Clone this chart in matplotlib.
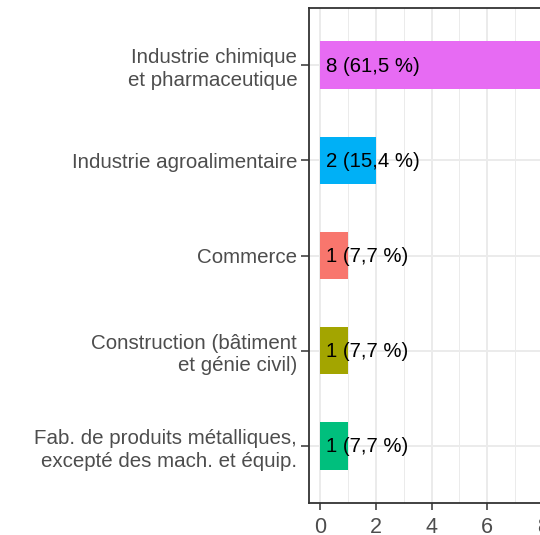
import matplotlib
matplotlib.use("Agg")
import matplotlib.pyplot as plt
from matplotlib.ticker import MultipleLocator

plt.rcParams.update({
    "font.family": ["Liberation Sans", "DejaVu Sans"],
})

# ---------------------------------------------------------------------------
# Data
# ---------------------------------------------------------------------------
categories = [
    "Industrie chimique\net pharmaceutique",
    "Industrie agroalimentaire",
    "Commerce",
    "Construction (bâtiment\net génie civil)",
    "Fab. de produits métalliques,\nexcepté des mach. et équip.",
]
counts = [8, 2, 1, 1, 1]
labels = ["8 (61,5 %)", "2 (15,4 %)", "1 (7,7 %)", "1 (7,7 %)", "1 (7,7 %)"]
colors = ["#E76BF3", "#00B0F6", "#F8766D", "#A3A500", "#00BF7D"]

W, H = 540, 535
fig = plt.figure(figsize=(W / 100, H / 100), dpi=100)
left, right, top, bottom = 309, 554, 8, 503
ax = fig.add_axes([left / W, (H - bottom) / H, (right - left) / W, (bottom - top) / H])

ypos = list(range(len(categories)))
ax.barh(ypos, counts, height=0.5, color=colors, edgecolor="none", zorder=2)

for y, lab in zip(ypos, labels):
    ax.annotate(lab, xy=(0, y), xytext=(6, -1), textcoords="offset pixels",
                ha="left", va="center", fontsize=14.7, color="black", zorder=3)

ax.set_xlim(-0.4, 8.4)
ax.set_ylim(len(categories) - 0.4, -0.6)
ax.set_yticks(ypos)
ax.set_yticklabels(categories, fontsize=14.8, color="#4D4D4D", linespacing=1.25)
ax.xaxis.set_major_locator(MultipleLocator(2))
ax.xaxis.set_minor_locator(MultipleLocator(1))
ax.tick_params(axis="x", which="major", labelsize=15.5, labelcolor="#4D4D4D",
               length=5, width=1.1, color="#333333", pad=5)
ax.tick_params(axis="x", which="minor", length=0)
ax.tick_params(axis="y", length=5.5, width=1.1, color="#333333", pad=3)

ax.grid(which="major", color="#EBEBEB", lw=1.4, zorder=0)
ax.grid(which="minor", axis="x", color="#EBEBEB", lw=0.7, zorder=0)
ax.set_axisbelow(True)
for s in ax.spines.values():
    s.set_color("#333333")
    s.set_linewidth(1.3)

fig.savefig("out.png", dpi=100)
